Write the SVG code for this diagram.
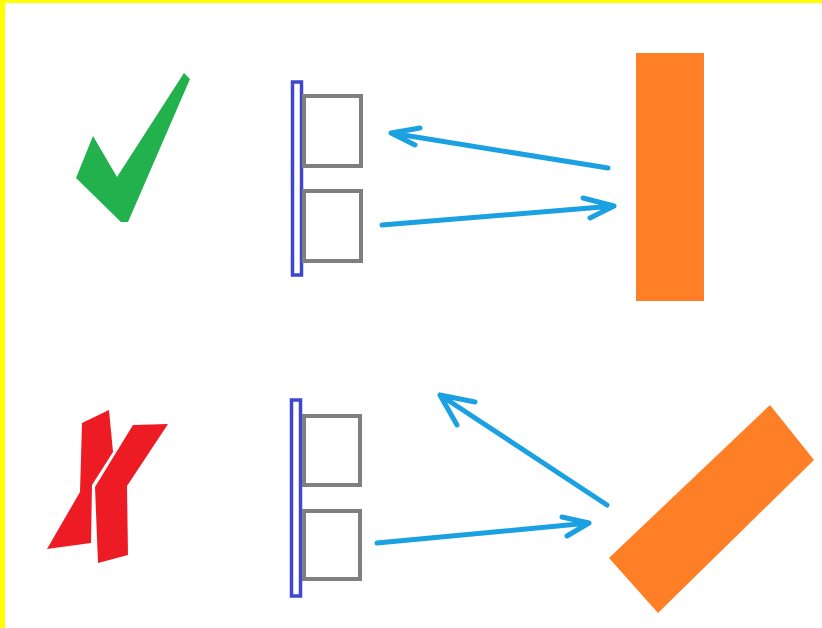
<svg xmlns="http://www.w3.org/2000/svg" width="822" height="628" viewBox="0 0 822 628">
<defs>
<style>
.bar{fill:#ffffff;stroke:#3f48cc;stroke-width:3.5}
.box{fill:#ffffff;stroke:#7f7f7f;stroke-width:4}
.arr{fill:none;stroke:#1ba1e2;stroke-width:5;stroke-linecap:round;stroke-linejoin:round}
.org{fill:#ff7f27}
</style>
</defs>
<rect x="0" y="0" width="822" height="628" fill="#ffffff"/>
<path d="M0 0H822V3H5V628H0Z" fill="#ffff00"/>
<g id="check">
<polygon points="184,73 190,79 128,222 121,222 76,178 93,136 117,177" fill="#22b14c"/>
</g>
<g id="cross">
<polygon points="82,423 109,410 113,452 92,485 91,543 47,549 80,492" fill="#ed1c24"/>
<polygon points="133,425 168,424 127,486 128,555 98,563 95,487" fill="#ed1c24"/>
</g>
<g id="mirror-top">
<rect class="bar" x="292.5" y="82" width="9" height="193"/>
<rect class="box" x="304" y="96" width="57" height="70"/>
<rect class="box" x="304" y="191" width="57" height="70"/>
</g>
<g id="mirror-bottom">
<rect class="bar" x="291.5" y="400" width="9" height="196"/>
<rect class="box" x="304" y="416" width="56" height="69"/>
<rect class="box" x="304" y="511" width="56" height="68"/>
</g>
<g id="plate-top">
<rect class="org" x="636" y="53" width="68" height="248"/>
</g>
<g id="plate-bottom">
<polygon class="org" points="770,405 814,460 658,613 609,558"/>
</g>
<g id="connectors">
<path class="arr" d="M608,168 L391,133 M420,128 L391,133 L415,145"/>
<path class="arr" d="M382,225 L614,206 M583,198 L614,206 L590,218"/>
<path class="arr" d="M607,505 L440,395 M475,402 L440,395 L457,425"/>
<path class="arr" d="M377,543 L589,523 M562,517 L589,523 L567,536"/>
</g>
</svg>
